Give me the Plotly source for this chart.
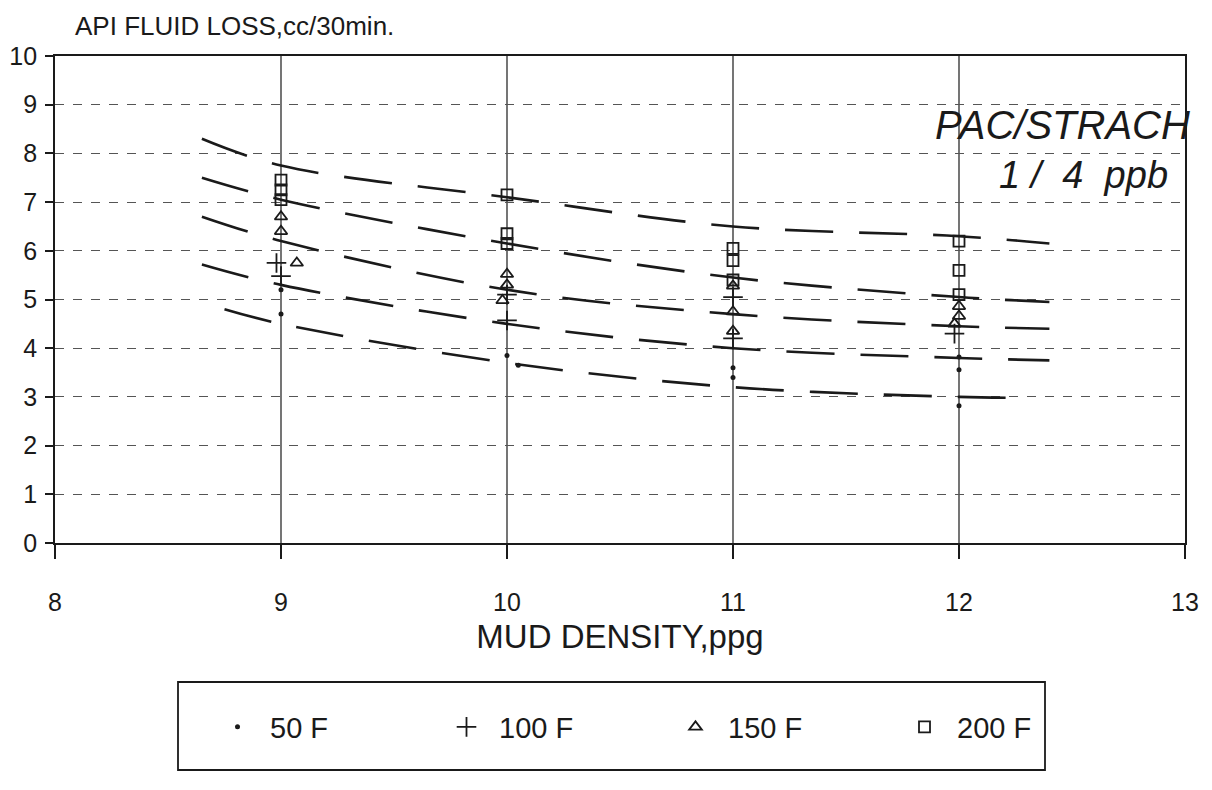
import plotly.graph_objects as go

# ---------------- data ----------------
# measured points (x = mud density ppg, y = API fluid loss cc/30min)
x_50F = [9.0, 9.0, 10.0, 10.05, 11.0, 11.0, 12.0, 12.0, 12.0]
y_50F = [5.2, 4.7, 3.85, 3.65, 3.6, 3.4, 3.82, 3.56, 2.82]

x_100F = [8.98, 9.0, 10.0, 10.0, 11.0, 11.0, 11.98]
y_100F = [5.75, 5.48, 5.1, 4.57, 5.05, 4.2, 4.3]

x_150F = [9.0, 9.0, 9.07, 10.0, 10.0, 9.98, 11.0, 11.0, 11.0, 12.0, 12.0, 11.98]
y_150F = [6.7, 6.4, 5.75, 5.52, 5.3, 4.98, 5.28, 4.75, 4.35, 4.86, 4.66, 4.5]

x_200F = [9.0, 9.0, 9.0, 10.0, 10.0, 10.0, 11.0, 11.0, 11.0, 12.0, 12.0, 12.0]
y_200F = [7.45, 7.25, 7.05, 7.15, 6.35, 6.15, 6.05, 5.8, 5.4, 6.2, 5.6, 5.1]

# fitted trend curves (read at several densities)
curve_x = [8.65, 9.0, 10.0, 11.0, 12.0, 12.4]
curve_1 = [8.3, 7.75, 7.1, 6.5, 6.3, 6.15]
curve_2 = [7.5, 7.05, 6.15, 5.45, 5.05, 4.95]
curve_3 = [6.7, 6.2, 5.2, 4.7, 4.45, 4.4]
curve_4 = [5.72, 5.3, 4.5, 4.0, 3.8, 3.75]
curve_5_x = [8.75, 9.0, 10.0, 11.0, 12.0, 12.3]
curve_5 = [4.8, 4.5, 3.7, 3.2, 3.0, 2.98]

x_ticks = [8, 9, 10, 11, 12, 13]
y_ticks = list(range(0, 11))

series_names = ["50 F", "100 F", "150 F", "200 F"]

FONT = "Liberation Sans, Arial, sans-serif"
INK = "#1a1a1a"

# page body has an 8px margin; work in page pixels minus that offset
O = 8
W, H = 1212 - 2 * O, 790 - 2 * O
L, R, T, B = 55 - O, 1185 - O, 56 - O, 543 - O
PW, PH = R - L, B - T


def px(xp):
    return (xp - O - L) / PW


def py(yp):
    return (B - (yp - O)) / PH


fig = go.Figure()

# trend curves
for cx, cy in [(curve_x, curve_1), (curve_x, curve_2), (curve_x, curve_3),
               (curve_x, curve_4), (curve_5_x, curve_5)]:
    fig.add_trace(go.Scatter(
        x=cx, y=cy, mode="lines", line=dict(color=INK, width=2.6, dash="48px,26px",
                                            shape="spline", smoothing=1.0),
        showlegend=False, hoverinfo="skip"))

# measured points
fig.add_trace(go.Scatter(x=x_50F, y=y_50F, mode="markers", name=series_names[0],
                         marker=dict(symbol="circle", size=5, color=INK)))
fig.add_trace(go.Scatter(x=x_100F, y=y_100F, mode="markers", name=series_names[1],
                         marker=dict(symbol="cross-thin", size=14,
                                     line=dict(color=INK, width=1.8))))
fig.add_trace(go.Scatter(x=x_150F, y=y_150F, mode="markers", name=series_names[2],
                         marker=dict(symbol="triangle-up-open", size=11, color=INK,
                                     line=dict(color=INK, width=1.8))))
fig.add_trace(go.Scatter(x=x_200F, y=y_200F, mode="markers", name=series_names[3],
                         marker=dict(symbol="square-open", size=11, color=INK,
                                     line=dict(color=INK, width=1.8))))

fig.update_layout(
    width=W, height=H,
    margin=dict(l=L, r=W - R, t=T, b=H - B, autoexpand=False),
    paper_bgcolor="white", plot_bgcolor="white",
    font=dict(family=FONT, size=25, color=INK),
    xaxis=dict(range=[8, 13], tickvals=x_ticks, ticktext=[str(v) for v in x_ticks],
               showgrid=False, zeroline=False, automargin=False,
               showline=True, linecolor=INK, linewidth=1.8, mirror=True,
               ticks="outside", ticklen=14, tickwidth=1.5, tickcolor=INK,
               ticklabelstandoff=22, tickfont=dict(size=25),
               title=dict(text="MUD DENSITY,ppg", font=dict(size=33), standoff=10)),
    yaxis=dict(range=[0, 10], tickvals=y_ticks, showgrid=True,
               gridcolor="#555555", gridwidth=1, griddash="dash", automargin=False,
               zeroline=False, showline=True, linecolor=INK, linewidth=1.8, mirror=True,
               ticks="outside", ticklen=8, tickwidth=1.5, tickcolor=INK,
               ticklabelstandoff=3, tickfont=dict(size=25)),
    legend=dict(orientation="h", x=px(205), xanchor="left",
                y=py(727), yanchor="middle",
                font=dict(size=29), bgcolor="rgba(0,0,0,0)", entrywidth=159,
                itemwidth=55),
    showlegend=True,
)

# vertical solid grid lines at the density values
for xv in x_ticks[1:-1]:
    fig.add_shape(type="line", xref="x", yref="paper", x0=xv, x1=xv, y0=0, y1=1,
                  line=dict(color=INK, width=1.2), layer="below")

# legend frame
fig.add_shape(type="rect", xref="paper", yref="paper",
              x0=px(178), x1=px(1045), y0=py(770), y1=py(682),
              line=dict(color=INK, width=1.8))

# y axis title at top-left
fig.add_annotation(text="API FLUID LOSS,cc/30min.", xref="paper", yref="paper",
                   x=px(73), y=py(26), xanchor="left", yanchor="middle",
                   showarrow=False, font=dict(size=26))

# panel label
fig.add_annotation(text="<i>PAC/STRACH</i>", xref="paper", yref="paper",
                   x=px(1192), y=py(125), xanchor="right",
                   yanchor="middle", showarrow=False, font=dict(size=40))
fig.add_annotation(text="<i>1&nbsp;/&nbsp;&nbsp;4&nbsp;&nbsp;ppb</i>", xref="paper",
                   yref="paper", x=px(1170), y=py(175), xanchor="right",
                   yanchor="middle", showarrow=False, font=dict(size=38))

fig.write_html("out.html")
